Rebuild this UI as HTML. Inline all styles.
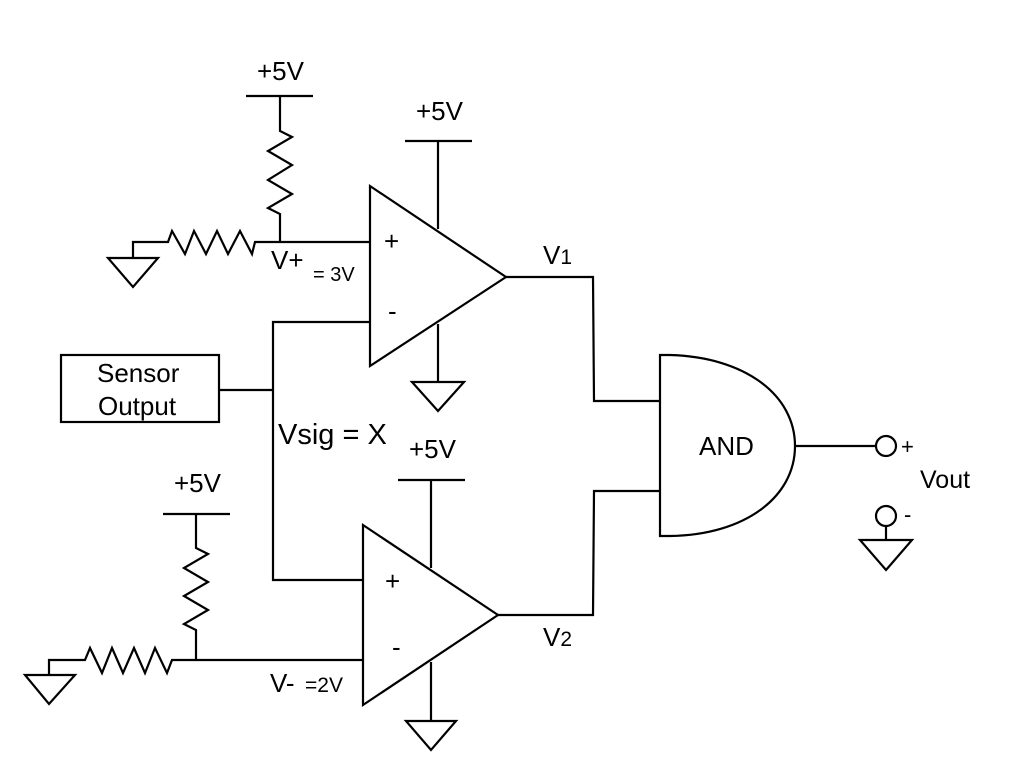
<!DOCTYPE html>
<html><head><meta charset="utf-8"><style>
html,body{margin:0;padding:0;background:#fff;}
svg{display:block;}
text{font-family:"Liberation Sans",Arial,sans-serif;fill:#000;}
</style></head><body>
<svg width="1023" height="777" viewBox="0 0 1023 777" xmlns="http://www.w3.org/2000/svg">
<g fill="none" stroke="#000" stroke-width="2.2" stroke-linejoin="miter">
<polygon points="370,186 370,366 506,277" fill="#fff"/>
<line x1="438" y1="141" x2="438" y2="229"/>
<line x1="405" y1="141" x2="472" y2="141"/>
<line x1="438" y1="324" x2="438" y2="382"/>
<polygon points="412,382 464,382 438,411"/>
<line x1="246" y1="96" x2="313" y2="96"/>
<polyline points="280,96 280,131 292,137 268,151 292,165 268,180 292,194 268,208 280,214 280,242"/>
<polyline points="370,242 255,242 252,254 240,231 228,254 217,231 206,254 194,231 185,254 172,231 168,242 133,242 133,258"/>
<polygon points="108,258 158,258 133,287"/>
<rect x="61" y="355" width="158" height="67"/>
<line x1="219" y1="390" x2="273" y2="390"/>
<polyline points="370,322 273,322 273,580 363,580"/>
<polygon points="363,525 363,705 498,615" fill="#fff"/>
<line x1="431" y1="480" x2="431" y2="568"/>
<line x1="398" y1="480" x2="465" y2="480"/>
<line x1="431" y1="662" x2="431" y2="721"/>
<polygon points="406,721 456,721 431,750"/>
<line x1="163" y1="514" x2="230" y2="514"/>
<polyline points="196,514 196,548 208,554 184,568 208,582 184,596 208,610 184,624 196,630 196,660"/>
<polyline points="363,660 172,660 167,673 155,648 145,673 134,648 123,673 112,648 102,673 90,648 85,660 49,660 49,675"/>
<polygon points="25,675 75,675 49,704"/>
<polyline points="506,277 593,277 594,401 660,401"/>
<polyline points="498,615 593,615 594,491 660,491"/>
<path d="M660,355 L670,355 C745,357 795,395 795,446 C795,497 745,535 670,536 L660,536 Z"/>
<line x1="795" y1="446" x2="876" y2="446"/>
<circle cx="886" cy="446" r="10"/>
<circle cx="886" cy="516" r="10"/>
<line x1="886" y1="526" x2="886" y2="540"/>
<polygon points="860,540 912,540 886,570"/>
</g>
<g font-size="26">
<text x="257" y="80">+5V</text>
<text x="416" y="120">+5V</text>
<text x="409" y="458">+5V</text>
<text x="174" y="492">+5V</text>
<text x="384" y="250" font-size="26">+</text>
<text x="388" y="320" font-size="26">-</text>
<text x="385" y="590" font-size="26">+</text>
<text x="392" y="656" font-size="26">-</text>
<text x="271" y="269">V+</text>
<text x="313" y="281" font-size="20">= 3V</text>
<text x="270" y="692">V- </text>
<text x="305" y="692" font-size="21">=2V</text>
<text x="543" y="264">V<tspan font-size="21">1</tspan></text>
<text x="543" y="646">V<tspan font-size="21">2</tspan></text>
<text x="97" y="382">Sensor</text>
<text x="98" y="415">Output</text>
<text x="278" y="444" font-size="29">Vsig = X</text>
<text x="699" y="455">AND</text>
<text x="901" y="454" font-size="22">+</text>
<text x="920" y="488" font-size="25">Vout</text>
<text x="904" y="522" font-size="22">-</text>
</g>
</svg>
</body></html>
